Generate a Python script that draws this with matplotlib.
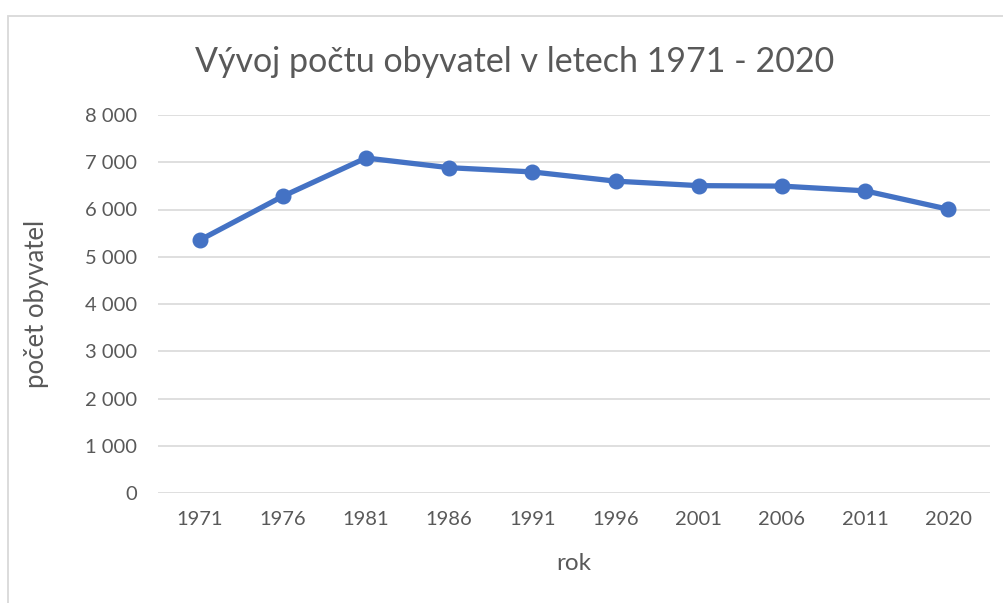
import matplotlib
matplotlib.use("Agg")
import matplotlib.pyplot as plt
from matplotlib.patches import Rectangle
from matplotlib.ticker import FuncFormatter

years = ["1971", "1976", "1981", "1986", "1991", "1996", "2001", "2006", "2011", "2020"]
population = [5350, 6280, 7090, 6885, 6795, 6600, 6505, 6495, 6395, 6005]
y_ticks = [0, 1000, 2000, 3000, 4000, 5000, 6000, 7000, 8000]

title = "Vývoj počtu obyvatel v letech 1971 - 2020"
xlabel = "rok"
ylabel = "počet obyvatel"

plt.rcParams['font.family'] = ['Lato', 'DejaVu Sans']
text_color = "#595959"

fig = plt.figure(figsize=(10.04, 6.03), dpi=100)
# chart border
fig.patches.append(Rectangle((8 / 1004, -0.1), 1.2, 1 - 15.5 / 603 + 0.1,
                             transform=fig.transFigure, fill=False,
                             edgecolor="#D9D9D9", linewidth=1.3))

ax = fig.add_axes([158 / 1004, 1 - 493 / 603, (990 - 158) / 1004, (493 - 115) / 603])
x = list(range(len(years)))
ax.plot(x, population, color="#4472C4", linewidth=3.8, marker="o",
        markersize=10.5, solid_capstyle="round", zorder=3)

ax.set_xlim(-0.5, len(years) - 0.5)
ax.set_ylim(0, 8000)
ax.set_yticks(y_ticks)
ax.yaxis.set_major_formatter(FuncFormatter(lambda v, p: f"{int(v):,}".replace(",", " ")))
ax.set_xticks(x)
ax.set_xticklabels(years)
ax.grid(axis="y", color="#D9D9D9", linewidth=1.2)
ax.set_axisbelow(True)
for s in ax.spines.values():
    s.set_visible(False)
ax.tick_params(axis="both", length=0, labelsize=14.5, labelcolor=text_color)
ax.tick_params(axis="y", pad=15)
ax.tick_params(axis="x", pad=13)

ax.set_xlabel(xlabel, fontsize=17.5, color=text_color, labelpad=18)
ax.set_ylabel(ylabel, fontsize=18.5, color=text_color, labelpad=26)
fig.text(515 / 1004, 1 - 62 / 603, title, fontsize=24.5, color=text_color,
         ha="center", va="center")

fig.savefig("out.png", dpi=100, facecolor="white")
